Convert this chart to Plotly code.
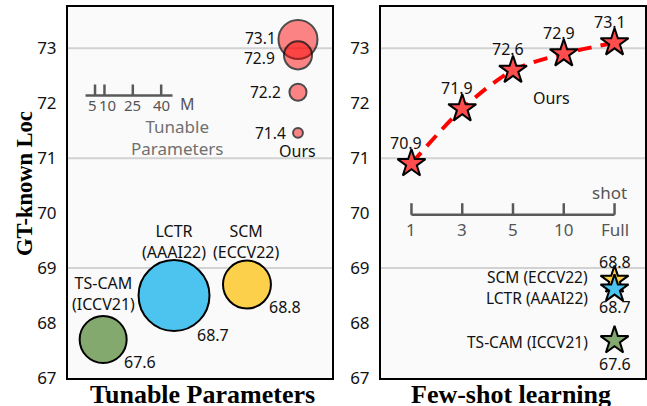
import math
import plotly.graph_objects as go

# ---------------- data ----------------
y_ticks = [67, 68, 69, 70, 71, 72, 73]
grid_vals = [69, 71, 73]

# left panel: bubble chart (tunable parameters, M)
method_names = ["TS-CAM<br>(ICCV21)", "LCTR<br>(AAAI22)", "SCM<br>(ECCV22)"]
method_pos = [9.3, 46.8, 85.4]
method_loc = [67.7, 68.5, 68.7]
method_label = ["67.6", "68.7", "68.8"]
method_params = [25.0, 57.0, 26.0]
method_colors = ["#84a96e", "#4dc4f0", "#fdd04c"]

ours_pos = 112.4
ours_loc = [73.16, 72.87, 72.2, 71.46]
ours_label = ["73.1", "72.9", "72.2", "71.4"]
ours_params = [17.2, 8.9, 3.3, 1.1]

ruler_ticks = [5, 10, 25, 40]
ruler_max = 46

# right panel: few-shot learning
shots = ["1", "3", "5", "10", "Full"]
ours_shot = [70.9, 71.9, 72.6, 72.9, 73.1]
base_names = ["SCM (ECCV22)", "LCTR (AAAI22)", "TS-CAM (ICCV21)"]
base_loc = [68.78, 68.62, 67.68]
base_label = ["68.8", "68.7", "67.6"]
base_colors = ["#fdd04c", "#4dc4f0", "#84a96e"]

# ---------------- style ----------------
SANS = "Noto Sans"
SERIF = "Liberation Serif"
W, H = 647, 406
SIZEREF = 2 * 25.0 / 47 ** 2
FS = 16

def radius(p):
    return math.sqrt(p / (2 * SIZEREF))

fig = go.Figure()

# left bubbles
for n, x, y, p, c in zip(method_names, method_pos, method_loc, method_params, method_colors):
    fig.add_trace(go.Scatter(
        x=[x], y=[y], mode="markers", xaxis="x", yaxis="y",
        marker=dict(size=[p], sizemode="area", sizeref=SIZEREF, color=c,
                    line=dict(color="black", width=2), opacity=1),
        showlegend=False, hoverinfo="skip"))
for y, p in zip(ours_loc, ours_params):
    fig.add_trace(go.Scatter(
        x=[ours_pos], y=[y], mode="markers", xaxis="x", yaxis="y",
        marker=dict(size=[p], sizemode="area", sizeref=SIZEREF, color="rgba(255,0,0,0.68)",
                    line=dict(color="black", width=2)),
        showlegend=False, hoverinfo="skip"))

# left ruler
RULER_Y = 72.14
RULER_TOP = 72.34
fig.add_trace(go.Scatter(x=[0, ruler_max], y=[RULER_Y, RULER_Y], mode="lines",
                         xaxis="x", yaxis="y", line=dict(color="#595959", width=2.5),
                         showlegend=False, hoverinfo="skip"))
for t in ruler_ticks:
    fig.add_trace(go.Scatter(x=[t, t], y=[RULER_Y, RULER_TOP], mode="lines",
                             xaxis="x", yaxis="y", line=dict(color="#595959", width=2.5),
                             showlegend=False, hoverinfo="skip"))

# right panel: ours dashed curve with stars
xs = list(range(len(shots)))
fig.add_trace(go.Scatter(
    x=xs, y=ours_shot, mode="lines", xaxis="x2", yaxis="y2",
    line=dict(color="#ff0000", width=4, dash="14px,9px", shape="spline", smoothing=0.8),
    showlegend=False, hoverinfo="skip"))
fig.add_trace(go.Scatter(
    x=xs, y=ours_shot, mode="markers", xaxis="x2", yaxis="y2",
    marker=dict(symbol="star", size=21, color="#ff4d4d", line=dict(color="black", width=2)),
    showlegend=False, hoverinfo="skip"))

# shot ruler
SHOT_Y = 69.97
SHOT_TOP = 70.18
fig.add_trace(go.Scatter(x=[xs[0], xs[-1]], y=[SHOT_Y, SHOT_Y], mode="lines",
                         xaxis="x2", yaxis="y2", line=dict(color="#595959", width=2.5),
                         showlegend=False, hoverinfo="skip"))
for x in xs:
    fig.add_trace(go.Scatter(x=[x, x], y=[SHOT_Y, SHOT_TOP], mode="lines",
                             xaxis="x2", yaxis="y2", line=dict(color="#595959", width=2.5),
                             showlegend=False, hoverinfo="skip"))

# baseline stars
for y, c in zip(base_loc, base_colors):
    fig.add_trace(go.Scatter(
        x=[xs[-1]], y=[y], mode="markers", xaxis="x2", yaxis="y2",
        marker=dict(symbol="star", size=21, color=c, line=dict(color="black", width=2)),
        showlegend=False, hoverinfo="skip"))

ann = []
def A(**kw):
    d = dict(showarrow=False, font=dict(family=SANS, size=FS, color="#111"))
    d.update(kw)
    ann.append(d)

# left: method labels
name_shift = [23, 19, 19]
val_dx = [19, 21, 20]
val_dy = [22, 39, 22]
for i in range(3):
    r = radius(method_params[i])
    A(x=method_pos[i], y=method_loc[i], text=method_names[i], xref="x", yref="y",
      yshift=r + name_shift[i], xanchor="center", yanchor="middle")
    A(x=method_pos[i], y=method_loc[i], text=method_label[i], xref="x", yref="y",
      xshift=val_dx[i], yshift=-val_dy[i], xanchor="left", yanchor="middle")

ours_dx = [-20, -21, -15, -10]
ours_dy = [1, -3, 0, 0]
for i in range(4):
    A(x=ours_pos, y=ours_loc[i], text=ours_label[i], xref="x", yref="y",
      xshift=ours_dx[i], yshift=ours_dy[i], xanchor="right", yanchor="middle",
      font=dict(family=SANS, size=15.5, color="#111"))
A(x=ours_pos, y=ours_loc[-1], text="Ours", xref="x", yref="y", yshift=-18,
  xanchor="center", yanchor="middle")

ruler_dx = [-3, 3, 0, 0]
for t, dx in zip(ruler_ticks, ruler_dx):
    A(x=t, y=RULER_Y, text=str(t), xref="x", yref="y", yshift=-10, xshift=dx,
      xanchor="center", yanchor="middle", font=dict(family=SANS, size=15, color="#555"))
A(x=ruler_max + 3, y=RULER_Y, text="M", xref="x", yref="y", yshift=-9,
  xanchor="left", yanchor="middle", font=dict(family=SANS, size=16, color="#555"))
A(x=48.4, y=71.37, text="Tunable<br>Parameters", xref="x", yref="y",
  xanchor="center", yanchor="middle", font=dict(family=SANS, size=17, color="#707070"))

# right: ours labels
for x, y in zip(xs, ours_shot):
    A(x=x, y=y, text=f"{y:.1f}", xref="x2", yref="y2", xshift=-5, yshift=21,
      xanchor="center", yanchor="middle")
A(x=2.75, y=72.1, text="Ours", xref="x2", yref="y2", xanchor="center", yanchor="middle")

for x, s in zip(xs, shots):
    A(x=x, y=SHOT_Y, text=s, xref="x2", yref="y2", yshift=-15,
      xanchor="center", yanchor="middle", font=dict(family=SANS, size=17, color="#555"))
A(x=xs[-1], y=SHOT_Y, text="shot", xref="x2", yref="y2", xshift=-5, yshift=22,
  xanchor="center", yanchor="middle", font=dict(family=SANS, size=17, color="#555"))

name_dy = [3, -9, -1]
val_dy2 = [18, -18, -23]
for i in range(3):
    A(x=xs[-1], y=base_loc[i], text=base_names[i], xref="x2", yref="y2",
      xshift=-25, yshift=name_dy[i], xanchor="right", yanchor="middle",
      font=dict(family=SANS, size=15.5, color="#111"))
    A(x=xs[-1], y=base_loc[i], text=base_label[i], xref="x2", yref="y2",
      yshift=val_dy2[i], xanchor="center", yanchor="middle")

# titles
A(x=202 / W, y=1 - 394 / H, xref="paper", yref="paper", text="<b>Tunable Parameters</b>",
  font=dict(family=SERIF, size=26, color="black"), xanchor="center", yanchor="middle")
A(x=511 / W, y=1 - 394 / H, xref="paper", yref="paper", text="<b>Few-shot learning</b>",
  font=dict(family=SERIF, size=26, color="black"), xanchor="center", yanchor="middle")
A(x=24 / W, y=1 - 184 / H, xref="paper", yref="paper", text="<b>GT-known Loc</b>",
  textangle=-90, font=dict(family=SERIF, size=22.5, color="black"),
  xanchor="center", yanchor="middle")

shapes = []
for g in grid_vals:
    for xr, yr in (("x domain", "y"), ("x2 domain", "y2")):
        shapes.append(dict(type="line", xref=xr, yref=yr, x0=0, x1=1, y0=g, y1=g,
                           line=dict(color="#d2d2d2", width=2), layer="below"))

ydom = [1 - 378 / H, 1 - 7 / H]
axis_common = dict(showline=True, mirror=True, linecolor="black", linewidth=2,
                   showgrid=False, zeroline=False, automargin=False)
fig.update_layout(
    width=W, height=H,
    margin=dict(l=0, r=0, t=0, b=0, pad=0, autoexpand=False),
    paper_bgcolor="white", plot_bgcolor="#fafafa",
    xaxis=dict(domain=[68 / W, 332 / W], range=[-9.3, 130.4], showticklabels=False,
               ticks="", **axis_common),
    yaxis=dict(domain=ydom, range=[67, 73.75], tickvals=y_ticks, ticks="outside",
               ticklen=6, tickcolor="rgba(0,0,0,0)",
               tickfont=dict(family=SANS, size=17, color="#111"), **axis_common),
    xaxis2=dict(domain=[381 / W, 645 / W], range=[-0.6, 4.6], showticklabels=False,
                ticks="", anchor="y2", **axis_common),
    yaxis2=dict(domain=ydom, range=[67, 73.75], tickvals=y_ticks, ticks="outside",
                ticklen=6, tickcolor="rgba(0,0,0,0)", anchor="x2",
                tickfont=dict(family=SANS, size=17, color="#111"), **axis_common),
    shapes=shapes, annotations=ann,
)
fig.write_html("out.html", config={"displayModeBar": False},
               post_script="document.body.style.margin='0';document.body.style.padding='0';"
                           "document.body.style.overflow='hidden';")
